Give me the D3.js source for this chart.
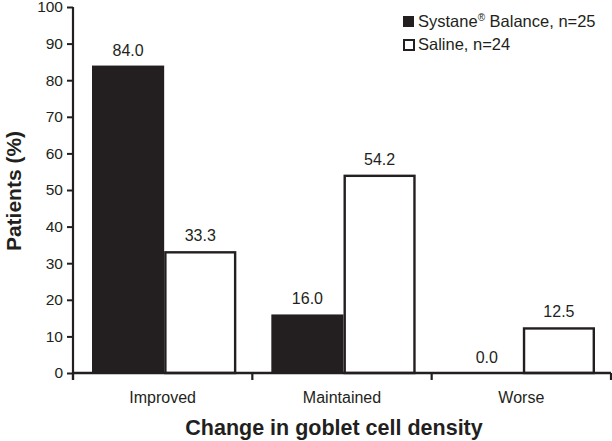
<!DOCTYPE html>
<html><head><meta charset="utf-8">
<script src="https://cdn.jsdelivr.net/npm/d3@7"></script>
<style>body{margin:0;background:#fff}svg{display:block}text{font-family:"Liberation Sans",Arial,sans-serif;fill:#231f20}</style>
</head><body><svg id="c" width="612" height="441"></svg>
<script>
const categories = ["Improved","Maintained","Worse"];
const seriesNames = ["Systane\u00ae Balance, n=25","Saline, n=24"];
const systane = [84.0, 16.0, 0.0];
const saline = [33.3, 54.2, 12.5];
const yTicks = [0,10,20,30,40,50,60,70,80,90,100];

const svg = d3.select("#c");
const x0 = 73, x1 = 611, yb = 373, yt = 7;
const x = d3.scaleBand().domain(categories).range([x0,x1]).paddingInner(0).paddingOuter(0);
const xs = d3.scaleBand().domain([0,1]).range([19, x.bandwidth()-16]).padding(0);
const y = d3.scaleLinear().domain([0,100]).range([yb,yt]);
const ink = "#231f20";
const FF = "Liberation Sans, Arial, sans-serif";

const data = categories.map((c,i)=>({c, v:[systane[i], saline[i]]}));
const g = svg.append("g");
data.forEach(d=>{
  d.v.forEach((v,s)=>{
    const bx = x(d.c)+xs(s), bw = xs.bandwidth();
    if (v>0) {
      if (s===0) g.append("rect").attr("x",bx).attr("y",y(v)).attr("width",bw).attr("height",yb-y(v)).attr("fill",ink);
      else g.append("rect").attr("x",bx+1.2).attr("y",y(v)+1.2).attr("width",bw-2.4).attr("height",yb-y(v)-1.2).attr("fill","#fff").attr("stroke",ink).attr("stroke-width",2.4);
    }
    g.append("text").attr("x",bx+bw/2).attr("y",y(v)-10).attr("text-anchor","middle").attr("font-size",16).text(v.toFixed(1));
  });
});

// y axis
const ya = svg.append("g").attr("transform",`translate(${x0},0)`)
  .call(d3.axisLeft(y).tickValues(yTicks).tickSize(6).tickPadding(4).tickFormat(d3.format("d")));
ya.select(".domain").attr("stroke",ink).attr("stroke-width",2.2).attr("d",`M0,${yt}V${yb+7}`);
ya.selectAll(".tick line").attr("stroke",ink).attr("stroke-width",2);
ya.selectAll(".tick text").attr("font-size",15.5).attr("fill",ink).style("font-family",FF);

// x axis
const xa = svg.append("g").attr("transform",`translate(0,${yb})`)
  .call(d3.axisBottom(x).tickSize(0).tickPadding(0));
xa.select(".domain").attr("stroke",ink).attr("stroke-width",2.4).attr("d",`M${x0},0H${x1}`);
xa.selectAll(".tick text").attr("font-size",16).attr("fill",ink).attr("dy",null).attr("y",30).style("font-family",FF);
const bounds = [x0, ...categories.map(c=>x(c)+x.bandwidth())];
xa.selectAll("line.sep").data(bounds).enter().append("line").attr("class","sep")
  .attr("x1",d=>d).attr("x2",d=>d).attr("y1",0).attr("y2",7).attr("stroke",ink).attr("stroke-width",2.2);

// axis titles
svg.append("text").attr("transform",`translate(21,${(yt+yb)/2+1}) rotate(-90)`).attr("text-anchor","middle")
  .attr("font-size",21).attr("font-weight","bold").text("Patients (%)");
svg.append("text").attr("x",334).attr("y",435).attr("text-anchor","middle")
  .attr("font-size",21.5).attr("font-weight","bold").text("Change in goblet cell density");

// legend
const lg = svg.append("g").attr("transform","translate(403,16)");
seriesNames.forEach((n,i)=>{
  const r = lg.append("rect").attr("y",i*23).attr("width",11).attr("height",11);
  if(i===0) r.attr("fill",ink); else r.attr("x",1).attr("y",i*23+1).attr("width",10).attr("height",10).attr("fill","#fff").attr("stroke",ink).attr("stroke-width",2);
  const t = lg.append("text").attr("x",15).attr("y",i*23+11).attr("font-size",16.5);
  if(i===0){ t.append("tspan").text("Systane"); t.append("tspan").attr("font-size",10).attr("dy",-6).text("\u00ae"); t.append("tspan").attr("dy",6).text(" Balance, n=25"); }
  else t.text(n);
});
</script></body></html>
